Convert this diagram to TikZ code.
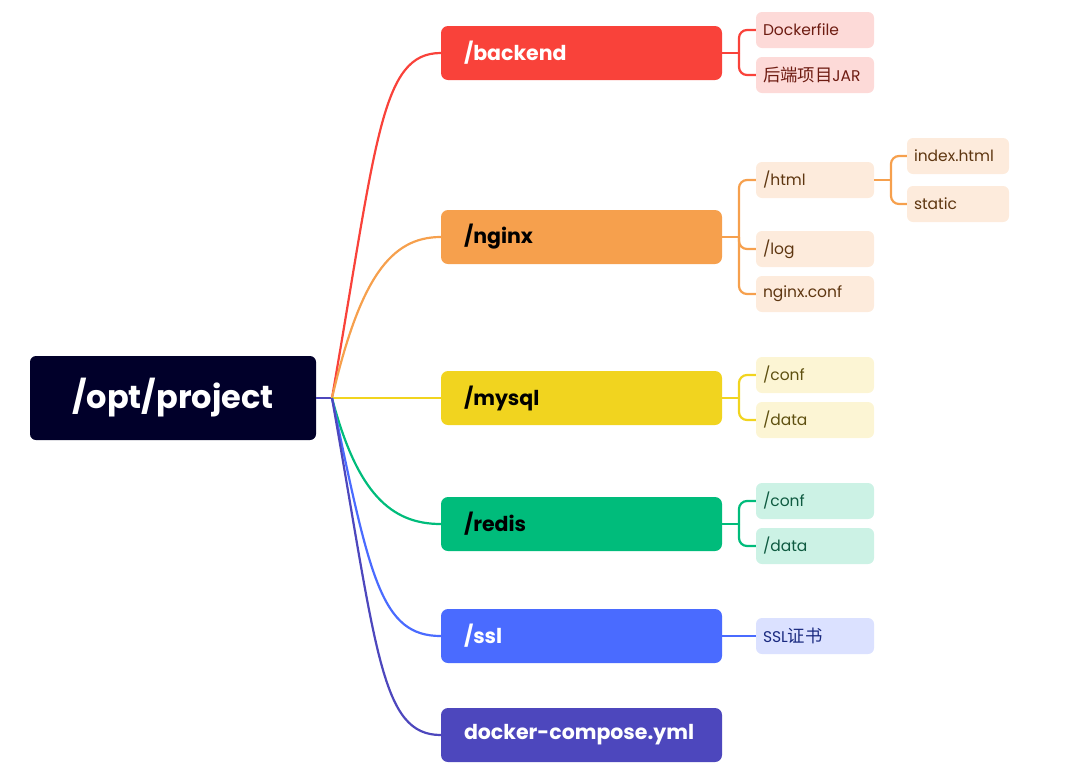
\documentclass[tikz,border=0pt]{standalone}
\usepackage{fontspec}
\setmainfont{Poppins}
\newfontfamily\cjk[Scale=1.12]{Noto Sans CJK SC}

\definecolor{rootbg}{HTML}{01002A}
\definecolor{bkred}{HTML}{F9423A}
\definecolor{bkredlt}{HTML}{FDDAD8}
\definecolor{bkredtx}{HTML}{6E1C12}
\definecolor{ngorange}{HTML}{F6A04D}
\definecolor{ngorangelt}{HTML}{FDEBDC}
\definecolor{ngorangetx}{HTML}{5E3610}
\definecolor{myyellow}{HTML}{F1D41F}
\definecolor{myyellowlt}{HTML}{FCF5D4}
\definecolor{myyellowtx}{HTML}{5E5010}
\definecolor{rdgreen}{HTML}{00BC7B}
\definecolor{rdgreenlt}{HTML}{CCF2E5}
\definecolor{rdgreentx}{HTML}{0E5A40}
\definecolor{sslblue}{HTML}{4A6BFF}
\definecolor{sslbluelt}{HTML}{DBE1FF}
\definecolor{sslbluetx}{HTML}{1A2A80}
\definecolor{dcpurple}{HTML}{4D47BD}

\tikzset{
  rootbox/.style={rectangle, rounded corners=6pt, fill=rootbg, text=white,
    minimum width=286pt, minimum height=84pt, font=\fontsize{32}{38}\selectfont\bfseries},
  branch/.style={rectangle, rounded corners=7pt, minimum height=54pt,
    text width=235pt, align=left, inner xsep=23pt, font=\fontsize{20.5}{24}\selectfont\bfseries},
  leaf/.style={rectangle, rounded corners=6pt, minimum height=36pt,
    text width=104pt, align=left, inner xsep=7pt, font=\fontsize{15.5}{18}\selectfont},
  link/.style={line width=2.2pt},
  bracket/.style={line width=2.2pt, rounded corners=8pt}
}

\begin{document}
\begin{tikzpicture}[x=1pt, y=-1pt]
\useasboundingbox (0,0) rectangle (1065,780);

% root
\node[rootbox] (root) at (173,398) {/opt/project};
\coordinate (hub) at (332,398);

% main folders
\node[branch, fill=bkred, text=white] (backend) at (581.5,53) {/backend};
\node[branch, fill=ngorange, text=black] (nginx) at (581.5,237) {/nginx};
\node[branch, fill=myyellow, text=black] (mysql) at (581.5,398) {/mysql};
\node[branch, fill=rdgreen, text=black] (redis) at (581.5,524) {/redis};
\node[branch, fill=sslblue, text=white] (ssl) at (581.5,636) {/ssl};
\node[branch, fill=dcpurple, text=white] (compose) at (581.5,735) {docker-compose.yml};

% leaves
\node[leaf, fill=bkredlt, text=bkredtx] (dockerfile) at (815,30) {Dockerfile};
\node[leaf, fill=bkredlt, text=bkredtx] (jar) at (815,75) {{\cjk 后端项目}JAR};
\node[leaf, fill=ngorangelt, text=ngorangetx] (html) at (815,180) {/html};
\node[leaf, fill=ngorangelt, text=ngorangetx] (log) at (815,249) {/log};
\node[leaf, fill=ngorangelt, text=ngorangetx] (ngconf) at (815,294) {nginx.conf};
\node[leaf, fill=ngorangelt, text=ngorangetx, text width=88pt] (index) at (958,156) {index.html};
\node[leaf, fill=ngorangelt, text=ngorangetx, text width=88pt] (static) at (958,204) {static};
\node[leaf, fill=myyellowlt, text=myyellowtx] (myconf) at (815,375) {/conf};
\node[leaf, fill=myyellowlt, text=myyellowtx] (mydata) at (815,420) {/data};
\node[leaf, fill=rdgreenlt, text=rdgreentx] (rdconf) at (815,501) {/conf};
\node[leaf, fill=rdgreenlt, text=rdgreentx] (rddata) at (815,546) {/data};
\node[leaf, fill=sslbluelt, text=sslbluetx] (cert) at (815,636) {SSL{\cjk 证书}};

% root to folders
\draw[link, dcpurple] (root.east) -- (hub);
\draw[link, bkred] (hub) .. controls +(45,-260) and +(-60,0) .. (backend.west);
\draw[link, ngorange] (hub) .. controls +(28,-120) and +(-50,0) .. (nginx.west);
\draw[link, myyellow] (hub) -- (mysql.west);
\draw[link, rdgreen] (hub) .. controls +(25,95) and +(-50,0) .. (redis.west);
\draw[link, sslblue] (hub) .. controls +(38,180) and +(-60,0) .. (ssl.west);
\draw[link, dcpurple] (hub) .. controls +(45,255) and +(-60,0) .. (compose.west);

% folders to files
\coordinate (bkj) at (739,53);
\draw[link, bkred] (backend.east) -- (bkj);
\draw[bracket, bkred] (bkj) |- (dockerfile.west);
\draw[bracket, bkred] (bkj) |- (jar.west);

\coordinate (ngj) at (739,237);
\draw[link, ngorange] (nginx.east) -- (ngj);
\draw[bracket, ngorange] (ngj) |- (html.west);
\draw[bracket, ngorange] (ngj) |- (log.west);
\draw[bracket, ngorange] (ngj) |- (ngconf.west);

\coordinate (htj) at (891,180);
\draw[link, ngorange] (html.east) -- (htj);
\draw[bracket, ngorange] (htj) |- (index.west);
\draw[bracket, ngorange] (htj) |- (static.west);

\coordinate (myj) at (739,398);
\draw[link, myyellow] (mysql.east) -- (myj);
\draw[bracket, myyellow] (myj) |- (myconf.west);
\draw[bracket, myyellow] (myj) |- (mydata.west);

\coordinate (rdj) at (739,524);
\draw[link, rdgreen] (redis.east) -- (rdj);
\draw[bracket, rdgreen] (rdj) |- (rdconf.west);
\draw[bracket, rdgreen] (rdj) |- (rddata.west);

\draw[link, sslblue] (ssl.east) -- (cert.west);
\end{tikzpicture}
\end{document}
